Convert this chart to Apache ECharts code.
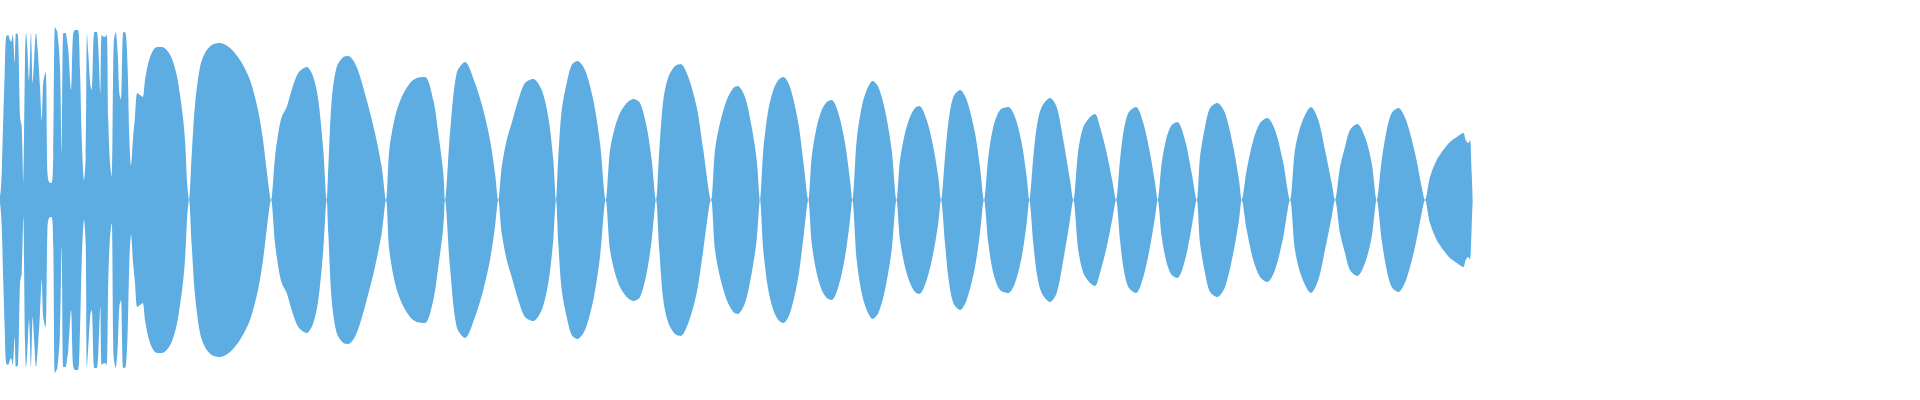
<!DOCTYPE html>
<html lang="en">
<head>
    <meta charset="UTF-8">
    <title>waveform</title>
</head>
<body style="margin:0">
<div id="demo" style="width:1920px;height:400px"></div>
</body>
<script src="https://cdn.jsdelivr.net/npm/echarts@6/dist/echarts.min.js"></script>
<script type="text/javascript">

    // noisy attack at the start (sample position, peak amplitude)
    var introX = [0, 1, 2, 3.3, 4.7, 6, 8, 10, 11, 12.7, 14.7, 16, 18, 20, 21.7, 23.3, 25, 26, 27.3, 29,
        31, 32.7, 34.3, 36, 37.7, 40, 41.7, 43.3, 45.7, 47.5, 49, 51.7, 53.3, 55, 57.3, 60, 61.7, 63.3, 65.5, 66.7,
        68.3, 71, 73, 75, 78, 80, 81.7, 84, 85.7, 87, 88.3, 90.3, 91.7, 94.3, 96.7, 98.3, 100.3, 101.7, 104.3, 106.7,
        108.3, 110, 111.7, 113.7, 115.7, 117.7, 119.3, 121, 123.3, 125.7, 127.7, 129.3, 131, 133.3, 135, 137.3, 140, 142.7,
        145, 148.3, 151.7, 155, 158.3, 161.7, 166.7, 171.7, 176.7, 180, 182.7, 185, 187.3];
    var introAmp = [3, 13, 35, 83, 127, 163, 165, 160, 158, 165, 137, 167, 165, 83, 73, 17, 140, 167, 153, 120,
        167, 117, 143, 167, 150, 113, 80, 118, 128, 27, 18, 17, 47, 173, 168, 133, 47, 167, 167, 162,
        150, 110, 165, 170, 170, 130, 63, 20, 43, 167, 147, 115, 110, 168, 168, 153, 107, 165, 163, 165,
        80, 37, 23, 157, 168, 147, 107, 100, 168, 167, 130, 63, 35, 65, 83, 107, 105, 103,
        120, 137, 147, 152, 153, 153, 150, 142, 125, 105, 85, 60, 15];

    // beating tone that follows
    var toneX = [189, 191.7, 195, 200, 205, 211.7, 220, 230, 240, 250, 258, 263, 267,
        271, 275, 278.3, 281.7, 286.7, 291.7, 298.3, 306.7, 313.3, 318.3, 323.3,
        326.7, 328.3, 331.7, 336.7, 343.3, 348.3, 356.7, 366.7, 375, 381.7,
        386, 389.3, 395, 401.7, 410, 416.7, 425, 433.3, 438.3, 443.3,
        445, 450, 456.7, 465, 475, 483.3, 490, 495,
        498.3, 501.7, 506.7, 511.7, 518.3, 525, 533.3, 541.7, 548.3, 553.3,
        556, 558.3, 561.7, 566.7, 571.7, 577.3, 585, 593.3, 600,
        605.7, 610, 615, 620, 626.7, 633.3, 640, 646.7, 651.7,
        656, 659.3, 663.3, 668.3, 675, 680.7, 688.3, 696.7, 703.3,
        711, 715, 720, 726.7, 733.3, 737.7, 745, 751.7, 756.7,
        760, 763.3, 768.3, 773.3, 778.3, 783.3, 790, 798.3, 804,
        808.3, 811.7, 816.7, 821.7, 826.7, 831.7, 838.3, 845, 850,
        852.3, 856.7, 861.7, 866.7, 872.7, 878.3, 885, 891.7,
        896.5, 900, 905, 910, 915, 919.3, 926.7, 933.3, 938.3,
        941, 945, 948.3, 953.3, 960, 966.7, 975, 980,
        984, 988.3, 993.3, 1000, 1008.3, 1015, 1021.7, 1026.7,
        1029.3, 1033.3, 1036.7, 1041.7, 1050, 1056.7, 1063.3, 1070,
        1073.3, 1078.3, 1083.3, 1090, 1095, 1100, 1106.7, 1112.7,
        1116, 1120, 1123.3, 1128.3, 1136, 1143.3, 1150, 1155,
        1157.7, 1161.7, 1166.7, 1171.7, 1177.3, 1185, 1191.7,
        1196.7, 1200, 1205, 1210, 1217.3, 1225, 1233.3, 1239,
        1241.7, 1246.7, 1253.3, 1260, 1267.3, 1275, 1283.3,
        1290, 1295, 1301.7, 1311, 1318.3, 1325, 1331.7,
        1335, 1340, 1345, 1350, 1357.3, 1365, 1371.7,
        1376.7, 1381.7, 1386.7, 1391.7, 1398.3, 1406, 1415, 1421.7,
        1425, 1430, 1436.7, 1443.3, 1450, 1456.7, 1463.3, 1465.7, 1468.3, 1470, 1471.7, 1472.7];
    var toneAmp = [0, 45, 95, 133, 147, 155, 157, 152, 140, 120, 90, 60, 27,
        0, 43, 67, 83, 93, 110, 127, 133, 123, 100, 50,
        0, 33, 100, 133, 143, 144, 133, 100, 67, 33,
        0, 50, 83, 103, 117, 122, 123, 100, 67, 27,
        0, 67, 127, 138, 117, 90, 60, 27,
        0, 33, 60, 77, 100, 117, 121, 110, 83, 40,
        0, 43, 90, 117, 135, 139, 130, 100, 57,
        0, 50, 73, 87, 97, 101, 97, 73, 40,
        0, 50, 100, 123, 134, 136, 123, 93, 50,
        0, 50, 77, 100, 112, 114, 103, 73, 40,
        0, 50, 90, 110, 120, 123, 113, 77, 33,
        0, 43, 73, 90, 98, 100, 87, 57, 20,
        0, 60, 93, 110, 119, 113, 90, 50,
        0, 40, 67, 83, 92, 94, 80, 53, 23,
        0, 43, 77, 103, 110, 100, 67, 33,
        0, 43, 73, 90, 93, 83, 57, 23,
        0, 43, 73, 93, 102, 93, 60, 20,
        0, 50, 73, 83, 86, 73, 47, 17,
        0, 40, 67, 87, 93, 77, 47, 17,
        0, 37, 63, 75, 78, 60, 27,
        0, 43, 73, 92, 97, 87, 53, 20,
        0, 30, 60, 77, 82, 70, 37,
        0, 50, 77, 93, 80, 50, 17,
        0, 33, 53, 70, 76, 63, 37,
        0, 40, 70, 87, 92, 80, 47, 13,
        0, 23, 40, 50, 58, 63, 67, 60, 57, 60, 27, 0];

    function Einit() {
        var myChart = echarts.init(document.getElementById('demo'));
        var xs = introX.concat(toneX), amps = introAmp.concat(toneAmp);
        var top = [], bottom = [];
        for (var i = 0; i < xs.length; i++) {
            top.push([xs[i], amps[i]]);
            bottom.push([xs[i], -amps[i]]);
        }
        var wave = {
            type: 'line',
            smooth: 0.3,
            showSymbol: false,
            silent: true,
            lineStyle: {width: 0},
            areaStyle: {color: '#5dade2', opacity: 1}
        };
        var option = {
            animation: false,
            grid: {left: 0, right: 0, top: 0, bottom: 0},
            xAxis: {type: 'value', min: 0, max: 1920, show: false},
            yAxis: {type: 'value', min: -200, max: 200, show: false},
            series: [
                Object.assign({data: top}, wave),
                Object.assign({data: bottom}, wave)
            ]
        };
        myChart.setOption(option);
    }

    Einit();
</script>
</html>
